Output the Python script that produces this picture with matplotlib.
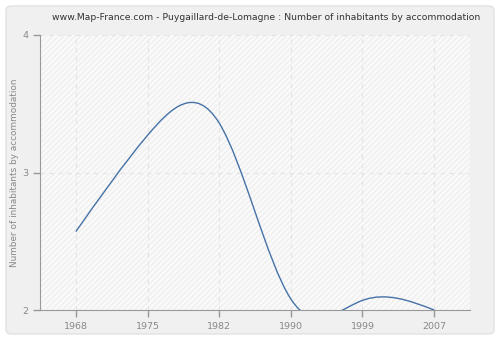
import numpy as np
import matplotlib.pyplot as plt
from matplotlib.path import Path
from matplotlib.patches import PathPatch, FancyBboxPatch, Rectangle

years = ['1968', '1975', '1982', '1990', '1999', '2007']
values = [2.57, 3.27, 3.36, 2.08, 2.07, 2.0]
y_ticks = [2, 3, 4]

title = 'www.Map-France.com - Puygaillard-de-Lomagne : Number of inhabitants by accommodation'
ylabel = 'Number of inhabitants by accommodation'

fig = plt.figure(figsize=(5, 3.4), dpi=100)
fig.patch.set_facecolor('white')
# rounded grey panel behind everything
panel = FancyBboxPatch((6/500, 6/340), 488/500, 328/340,
                       boxstyle='round,pad=0,rounding_size=0.012',
                       transform=fig.transFigure, facecolor='#f0f0f0',
                       edgecolor='#e2e2e2', linewidth=1, zorder=-10)
fig.patches.append(panel)

ax = fig.add_axes([40/500, 30/340, 430/500, 275/340])
ax.set_facecolor('#fafafa')
x = np.arange(len(years))

# hatched background of the plot area
ax.add_patch(Rectangle((-0.5, 2), 6, 2, facecolor='none', edgecolor='#efefef',
                       hatch='//////', linewidth=0, zorder=0))

# smooth curve through the data (natural cubic spline as bezier segments)
y = np.array(values)
n = len(y)
A = np.zeros((n, n))
b = np.zeros(n)
A[0, 0] = 1
A[-1, -1] = 1
for i in range(1, n - 1):
    A[i, i - 1:i + 2] = [1, 4, 1]
    b[i] = 6 * (y[i + 1] - 2 * y[i] + y[i - 1])
M = np.linalg.solve(A, b)
verts = [(x[0], y[0])]
codes = [Path.MOVETO]
for i in range(n - 1):
    d0 = (y[i + 1] - y[i]) - (2 * M[i] + M[i + 1]) / 6
    d1 = (y[i + 1] - y[i]) + (M[i] + 2 * M[i + 1]) / 6
    verts += [(x[i] + 1/3, y[i] + d0/3), (x[i + 1] - 1/3, y[i + 1] - d1/3), (x[i + 1], y[i + 1])]
    codes += [Path.CURVE4] * 3
ax.add_patch(PathPatch(Path(verts, codes), facecolor='none', edgecolor='#4572a7',
                       linewidth=1, zorder=3))

ax.set_xlim(-0.5, 5.5)
ax.set_ylim(2, 4)
ax.set_xticks(x)
ax.set_xticklabels(years)
ax.set_yticks(y_ticks)
ax.grid(True, color='#e4e4e4', linestyle=(0, (4, 4)), linewidth=0.8)
ax.set_axisbelow(True)
for s in ['top', 'right']:
    ax.spines[s].set_visible(False)
for s in ['left', 'bottom']:
    ax.spines[s].set_color('#999999')
ax.tick_params(colors='#999999', labelcolor='#888888', labelsize=6.8, length=5, width=1)
ax.set_ylabel(ylabel, color='#888888', fontsize=6.4, labelpad=2)

fig.text(266/500, 1 - 18/340, title, ha='center', va='center', fontsize=6.7, color='#333333')

fig.savefig('out.png', dpi=100)
